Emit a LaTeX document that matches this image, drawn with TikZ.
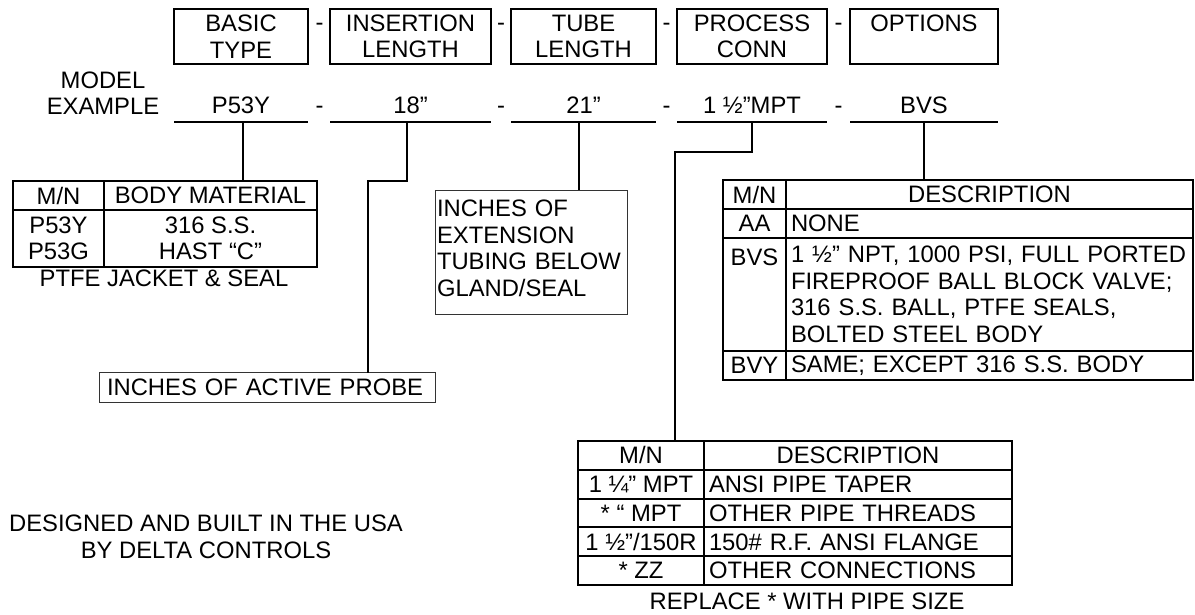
\documentclass[tikz,border=0pt]{standalone}
\usepackage{fontspec}
\setmainfont{Liberation Sans}
\usetikzlibrary{positioning}

\begin{document}
\begin{tikzpicture}[x=1pt, y=-1pt,
      font=\fontsize{23.8pt}{26.5pt}\selectfont,
      field/.style={draw, line width=2pt, minimum width=#1, minimum height=55pt,
        align=center, inner sep=0pt, outer sep=0pt},
      seg/.style={minimum width=#1, inner xsep=0pt, inner ysep=8.4pt,
        text depth=0pt, anchor=base, outer sep=0pt},
      segrule/.style={line width=2pt},
      lead/.style={line width=2pt},
      cell/.style={draw, line width=2pt, inner sep=0pt, outer sep=0pt,
        minimum width=#1, align=center},
      desc/.style={draw, line width=2pt, inner ysep=0pt, inner xsep=5pt,
        outer sep=0pt, text width=#1, align=left},
      note/.style={draw=black!80, line width=1pt, outer sep=0pt, align=left}]
    \useasboundingbox (0,0) rectangle (1195,614);

    % code fields
    \node[field=134pt] (f-type) at (241,36.5) {BASIC\\TYPE};
    \node[field=161pt] (f-ins) at (410.5,36.5) {INSERTION\\LENGTH};
    \node[field=145pt] (f-tube) at (583.5,36.5) {TUBE\\LENGTH};
    \node[field=150pt] (f-conn) at (752,36.5) {PROCESS\\CONN};
    \node[field=148pt, text depth=26.5pt] (f-opt) at (924,36.5) {OPTIONS};

    % model example
    \node[align=center] (model) at (103,93.2) {MODEL\\EXAMPLE};
    \node[seg=134pt] (ex-type) at (241,113.3) {P53Y};
    \node[seg=161pt] (ex-ins) at (410.5,113.3) {18”};
    \node[seg=145pt] (ex-tube) at (583.5,113.3) {21”};
    \node[seg=150pt] (ex-conn) at (752,113.3) {1 ½”MPT};
    \node[seg=148pt] (ex-opt) at (924,113.3) {BVS};
    \foreach \n in {type,ins,tube,conn,opt}
      \draw[segrule] (ex-\n.south west) -- (ex-\n.south east);
    \foreach \x [count=\i] in {319.5,501,666.5,838.5} {
      \node[anchor=base] (fd\i) at (\x,30.7) {-};
      \node[anchor=base] (ed\i) at (\x,113.3) {-};
    }

    % basic type table
    \node[cell=91pt, minimum height=29pt, anchor=north west] (lt-mn) at (13,181) {M/N};
    \node[cell=213pt, minimum height=29pt, right=0pt of lt-mn] (lt-mat) {BODY MATERIAL};
    \node[cell=91pt, minimum height=57pt, below=0pt of lt-mn] (lt-code) {P53Y\\P53G};
    \node[cell=213pt, minimum height=57pt, below=0pt of lt-mat] (lt-body) {316 S.S.\\HAST “C”};
    \node (lt-note) at (164,278.3) {PTFE JACKET \& SEAL};

    % length notes
    \node[note, anchor=north west, text width=320pt, inner xsep=8pt,
      inner ysep=0pt, minimum height=29.5pt] (probe) at (99,372.5) {INCHES OF ACTIVE PROBE};
    \node[note, anchor=north west, text width=188.7pt, inner xsep=2pt,
      inner ysep=10pt, text depth=88pt] (ext) at (435,190)
      {INCHES OF\\EXTENSION\\TUBING BELOW\\GLAND/SEAL};

    % options table
    \node[cell=63pt, minimum height=29.3pt, anchor=north west] (rt-mn) at (723,180) {M/N};
    \node[cell=407pt, minimum height=29.3pt, right=0pt of rt-mn] (rt-head) {DESCRIPTION};
    \node[cell=63pt, minimum height=29pt, below=0pt of rt-mn] (rt-aa) {AA};
    \node[desc=397pt, minimum height=29pt, below=0pt of rt-head] (rt-none) {NONE};
    \node[cell=63pt, minimum height=112.4pt, below=0pt of rt-aa] (rt-bvs) {};
    \node[inner sep=0pt, below=10pt of rt-bvs.north] (rt-bvs-mn) {BVS};
    \node[desc=397pt, minimum height=112.4pt, below=0pt of rt-none] (rt-valve)
      {1 ½” NPT, 1000 PSI, FULL PORTED\\FIREPROOF BALL BLOCK VALVE;\\
       316 S.S. BALL, PTFE SEALS,\\BOLTED STEEL BODY};
    \node[cell=63pt, minimum height=29.3pt, below=0pt of rt-bvs] (rt-bvy) {BVY};
    \node[desc=397pt, minimum height=29.3pt, below=0pt of rt-valve] (rt-same)
      {SAME; EXCEPT 316 S.S. BODY};

    % process connection table
    \node[cell=126pt, minimum height=28.8pt, anchor=north west] (bt-mn) at (578,441) {M/N};
    \node[cell=308pt, minimum height=28.8pt, right=0pt of bt-mn] (bt-head) {DESCRIPTION};
    \node[cell=126pt, minimum height=28.8pt, below=0pt of bt-mn] (bt-c1) {1 ¼” MPT};
    \node[desc=298pt, minimum height=28.8pt, below=0pt of bt-head] (bt-d1) {ANSI PIPE TAPER};
    \node[cell=126pt, minimum height=28.8pt, below=0pt of bt-c1] (bt-c2) {* “ MPT};
    \node[desc=298pt, minimum height=28.8pt, below=0pt of bt-d1] (bt-d2) {OTHER PIPE THREADS};
    \node[cell=126pt, minimum height=28.8pt, below=0pt of bt-c2] (bt-c3) {1 ½”/150R};
    \node[desc=298pt, minimum height=28.8pt, below=0pt of bt-d2] (bt-d3) {150\# R.F. ANSI FLANGE};
    \node[cell=126pt, minimum height=28.8pt, below=0pt of bt-c3] (bt-c4) {* ZZ};
    \node[desc=298pt, minimum height=28.8pt, below=0pt of bt-d3] (bt-d4) {OTHER CONNECTIONS};
    \node (bt-note) at (807,601.7) {REPLACE * WITH PIPE SIZE};

    \node[align=center] (origin) at (206,536.8)
      {DESIGNED AND BUILT IN THE USA\\BY DELTA CONTROLS};

    % leaders
    \coordinate (ins-bend) at (368,181);
    \coordinate (conn-bend) at (675,151.7);
    \draw[lead] ([xshift=2pt]ex-type.south) -- ([xshift=2pt]ex-type.south |- lt-mat.north);
    \draw[lead] ([xshift=-4pt]ex-ins.south) |- (ins-bend) -- (ins-bend |- probe.north);
    \draw[lead] ([xshift=-4.5pt]ex-tube.south) -- ([xshift=-4.5pt]ex-tube.south |- ext.north);
    \draw[lead] (ex-conn.south) |- (conn-bend) -- (conn-bend |- bt-mn.north);
    \draw[lead] (ex-opt.south) -- (ex-opt.south |- rt-head.north);
  \end{tikzpicture}
\end{document}
